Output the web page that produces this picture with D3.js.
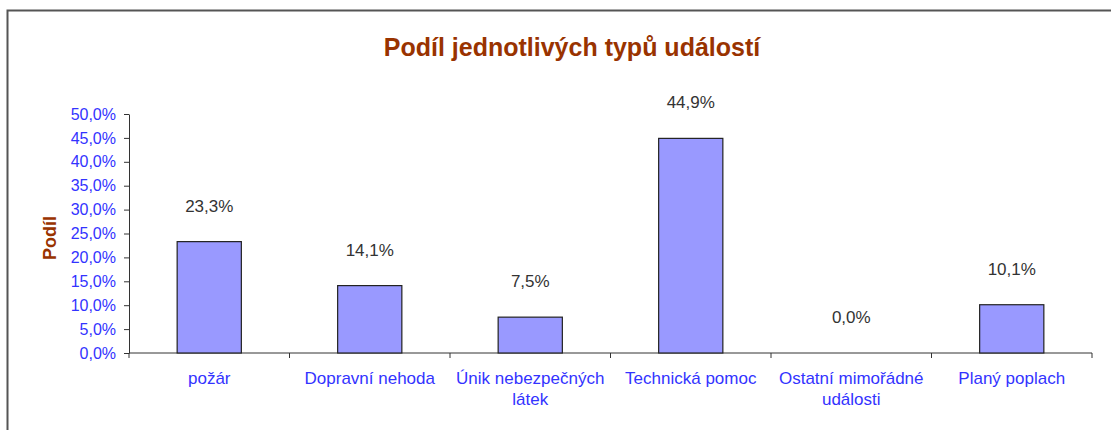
<!DOCTYPE html>
<html><head><meta charset="utf-8">
<script src="https://cdn.jsdelivr.net/npm/d3@7"></script>
<style>html,body{margin:0;padding:0;background:#fff;}svg{display:block;font-family:"Liberation Sans",Arial,sans-serif;}</style>
</head><body>
<svg id="c" width="1111" height="430"></svg>
<script>
const categories = [["požár"],["Dopravní nehoda"],["Únik nebezpečných","látek"],["Technická pomoc"],["Ostatní mimořádné","události"],["Planý poplach"]];
const values = [23.3, 14.1, 7.5, 44.9, 0.0, 10.1];
const yTicks = [0,5,10,15,20,25,30,35,40,45,50];
const title = "Podíl jednotlivých typů událostí";
const yLabel = "Podíl";

(function(){
const svg = d3.select("#c");
const fmt = v => v.toFixed(1).replace(".", ",") + "%";

// frame
svg.append("path").attr("d","M7.5,432 L7.5,10.5 L1115,10.5").attr("fill","none").attr("stroke","#555").attr("stroke-width",2);

const pL = 129, pR = 1092, pT = 114, pB = 353;
const x = d3.scaleBand().domain(d3.range(values.length)).range([pL,pR]).paddingInner(0.6).paddingOuter(0.3);
const y = d3.scaleLinear().domain([0,50]).range([pB, pT]);

svg.append("text").attr("x",572).attr("y",56).attr("text-anchor","middle")
  .attr("font-size",25).attr("font-weight","bold").attr("fill","#993300").text(title);

// y axis
const ya = svg.append("g").attr("transform",`translate(${pL},0)`)
  .call(d3.axisLeft(y).tickValues(yTicks).tickFormat(fmt).tickSize(5).tickSizeOuter(0));
ya.select(".domain").attr("stroke","#333");
ya.selectAll(".tick line").attr("stroke","#333");
ya.selectAll(".tick text").attr("fill","#3333ff").attr("font-size",16).attr("font-family","Liberation Sans, Arial, sans-serif").attr("x",-13);

svg.append("text").attr("transform","translate(56,238) rotate(-90)").attr("text-anchor","middle")
  .attr("font-size",18).attr("font-weight","bold").attr("fill","#993300").text(yLabel);

// x axis
const xa = svg.append("g").attr("transform",`translate(0,${pB})`);
xa.append("line").attr("x1",pL).attr("x2",pR).attr("stroke","#333");
const bounds = d3.range(values.length+1).map(i => pL + i*(pR-pL)/values.length);
xa.selectAll("line.t").data(bounds).join("line").attr("class","t")
  .attr("x1",d=>d).attr("x2",d=>d).attr("y1",0).attr("y2",5).attr("stroke","#333");

// bars
svg.selectAll("rect.bar").data(values).join("rect").attr("class","bar")
  .attr("x",(d,i)=>x(i)).attr("width",x.bandwidth())
  .attr("y",d=>y(d)).attr("height",d=>pB-y(d))
  .attr("fill","#9999ff").attr("stroke","#222").attr("stroke-width",1.2);

// value labels
svg.selectAll("text.val").data(values).join("text").attr("class","val")
  .attr("x",(d,i)=>x(i)+x.bandwidth()/2).attr("y",d=>y(d)-30)
  .attr("text-anchor","middle").attr("font-size",17).attr("fill","#333").text(fmt);

// category labels
const cl = svg.selectAll("text.cat").data(categories).join("text").attr("class","cat")
  .attr("text-anchor","middle").attr("font-size",17).attr("fill","#3333ff");
cl.each(function(lines,i){
  const t = d3.select(this);
  lines.forEach((l,j)=>t.append("tspan").attr("x",x(i)+x.bandwidth()/2).attr("y",384+j*21).text(l));
});
})();
</script>
</body></html>
